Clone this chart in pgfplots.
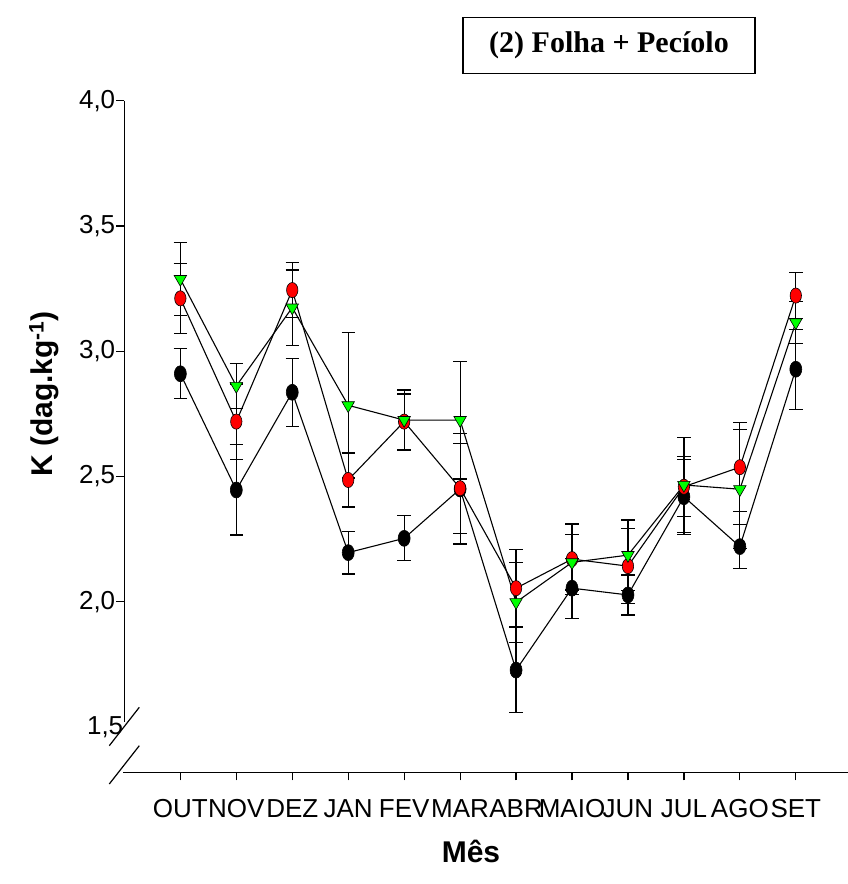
\documentclass[border=0pt]{standalone}
\usepackage{fontspec}
\setmainfont{Liberation Sans}
\newfontfamily\timesfont{Liberation Serif}
\usepackage{pgfplots}
\usepackage{pgfplotstable}
\pgfplotsset{compat=1.18}

\pgfplotstableread{
x y e
1  2.910 0.100
2  2.446 0.180
3  2.836 0.135
4  2.196 0.085
5  2.253 0.090
6  2.450 0.220
7  1.727 0.170
8  2.054 0.120
9  2.027 0.080
10 2.419 0.150
11 2.220 0.087
12 2.928 0.160
}\datablack

\pgfplotstableread{
x y e
1  3.211 0.140
2  2.719 0.150
3  3.244 0.110
4  2.486 0.108
5  2.719 0.110
6  2.453 0.180
7  2.054 0.155
8  2.170 0.140
9  2.142 0.150
10 2.459 0.120
11 2.537 0.178
12 3.222 0.092
}\datared

\pgfplotstableread{
x y e
1  3.288 0.145
2  2.861 0.090
3  3.174 0.150
4  2.784 0.290
5  2.725 0.120
6  2.725 0.235
7  1.998 0.160
8  2.157 0.110
9  2.186 0.140
10 2.466 0.190
11 2.449 0.237
12 3.115 0.085
}\datagreen

\definecolor{mygreen}{RGB}{0,255,0}
\definecolor{myred}{RGB}{255,0,0}

\begin{document}
\begin{tikzpicture}[x=1pt,y=1pt]
\useasboundingbox (0,0) rectangle (848,884);
\begin{axis}[
  at={(124.4pt,111.7pt)}, anchor=south west,
  x=55.95pt, y=250.5pt,
  xmin=0, xmax=12.93, ymin=1.319, ymax=4.0,
  clip=false,
  axis lines=left,
  axis line style={draw=none,-},
  tick align=outside,
  major tick length=8pt,
  tick style={line width=1.2pt, black},
  xtick={1,...,12},
  xticklabels={OUT,NOV,DEZ,JAN,FEV,MAR,ABR,MAIO,JUN,JUL,AGO,SET},
  xticklabel style={font=\fontsize{26}{30}\selectfont, yshift=-16pt},
  ytick={2,2.5,3,3.5,4},
  yticklabels={{2{,}0},{2{,}5},{3{,}0},{3{,}5},{4{,}0}},
  extra y ticks={1.5},
  extra y tick labels={1{,}5},
  extra y tick style={major tick length=0pt},
  yticklabel style={font=\fontsize{26}{30}\selectfont, inner sep=1pt},
]
\addplot[black, line width=1.1pt, mark=*, mark size=8pt,
  mark options={xscale=0.75, fill=black, draw=black, line width=0.6pt},
  error bars/.cd, y dir=both, y explicit,
  error bar style={line width=1.2pt, black},
  error mark options={rotate=90, mark size=6.7pt, line width=1.2pt, black}]
  table[x=x, y=y, y error=e] {\datablack};
\addplot[black, line width=1.1pt, mark=*, mark size=7.6pt,
  mark options={xscale=0.75, fill=myred, draw=black, line width=0.6pt},
  error bars/.cd, y dir=both, y explicit,
  error bar style={line width=1.2pt, black},
  error mark options={rotate=90, mark size=6.7pt, line width=1.2pt, black}]
  table[x=x, y=y, y error=e] {\datared};
\addplot[black, line width=1.1pt, mark=triangle*, mark size=7.2pt,
  mark options={rotate=180, fill=mygreen, draw=black, line width=0.6pt},
  error bars/.cd, y dir=both, y explicit,
  error bar style={line width=1.2pt, black},
  error mark options={rotate=90, mark size=6.7pt, line width=1.2pt, black}]
  table[x=x, y=y, y error=e] {\datagreen};
\end{axis}
% axis lines with break
\draw[line width=1.2pt] (124.4,783.3) -- (124.4,162.3);
\draw[line width=1.2pt] (139.3,176.7) -- (109.3,138.3);
\draw[line width=1.2pt] (139.3,138.3) -- (109.3,100);
\draw[line width=1.2pt] (123.3,111.7) -- (848,111.7);
% title box
\node[draw, line width=1.6pt, minimum width=292pt, minimum height=56pt, inner sep=0pt,
  font=\timesfont\bfseries\fontsize{30}{34}\selectfont] at (609,838.3) {(2) Folha + Pecíolo};
% axis titles
\node[rotate=90, font=\bfseries\fontsize{30}{34}\selectfont] at (44,490) {K (dag.kg\textsuperscript{-1})};
\node[font=\bfseries\fontsize{30}{34}\selectfont] at (471,33) {Mês};
\end{tikzpicture}
\end{document}
